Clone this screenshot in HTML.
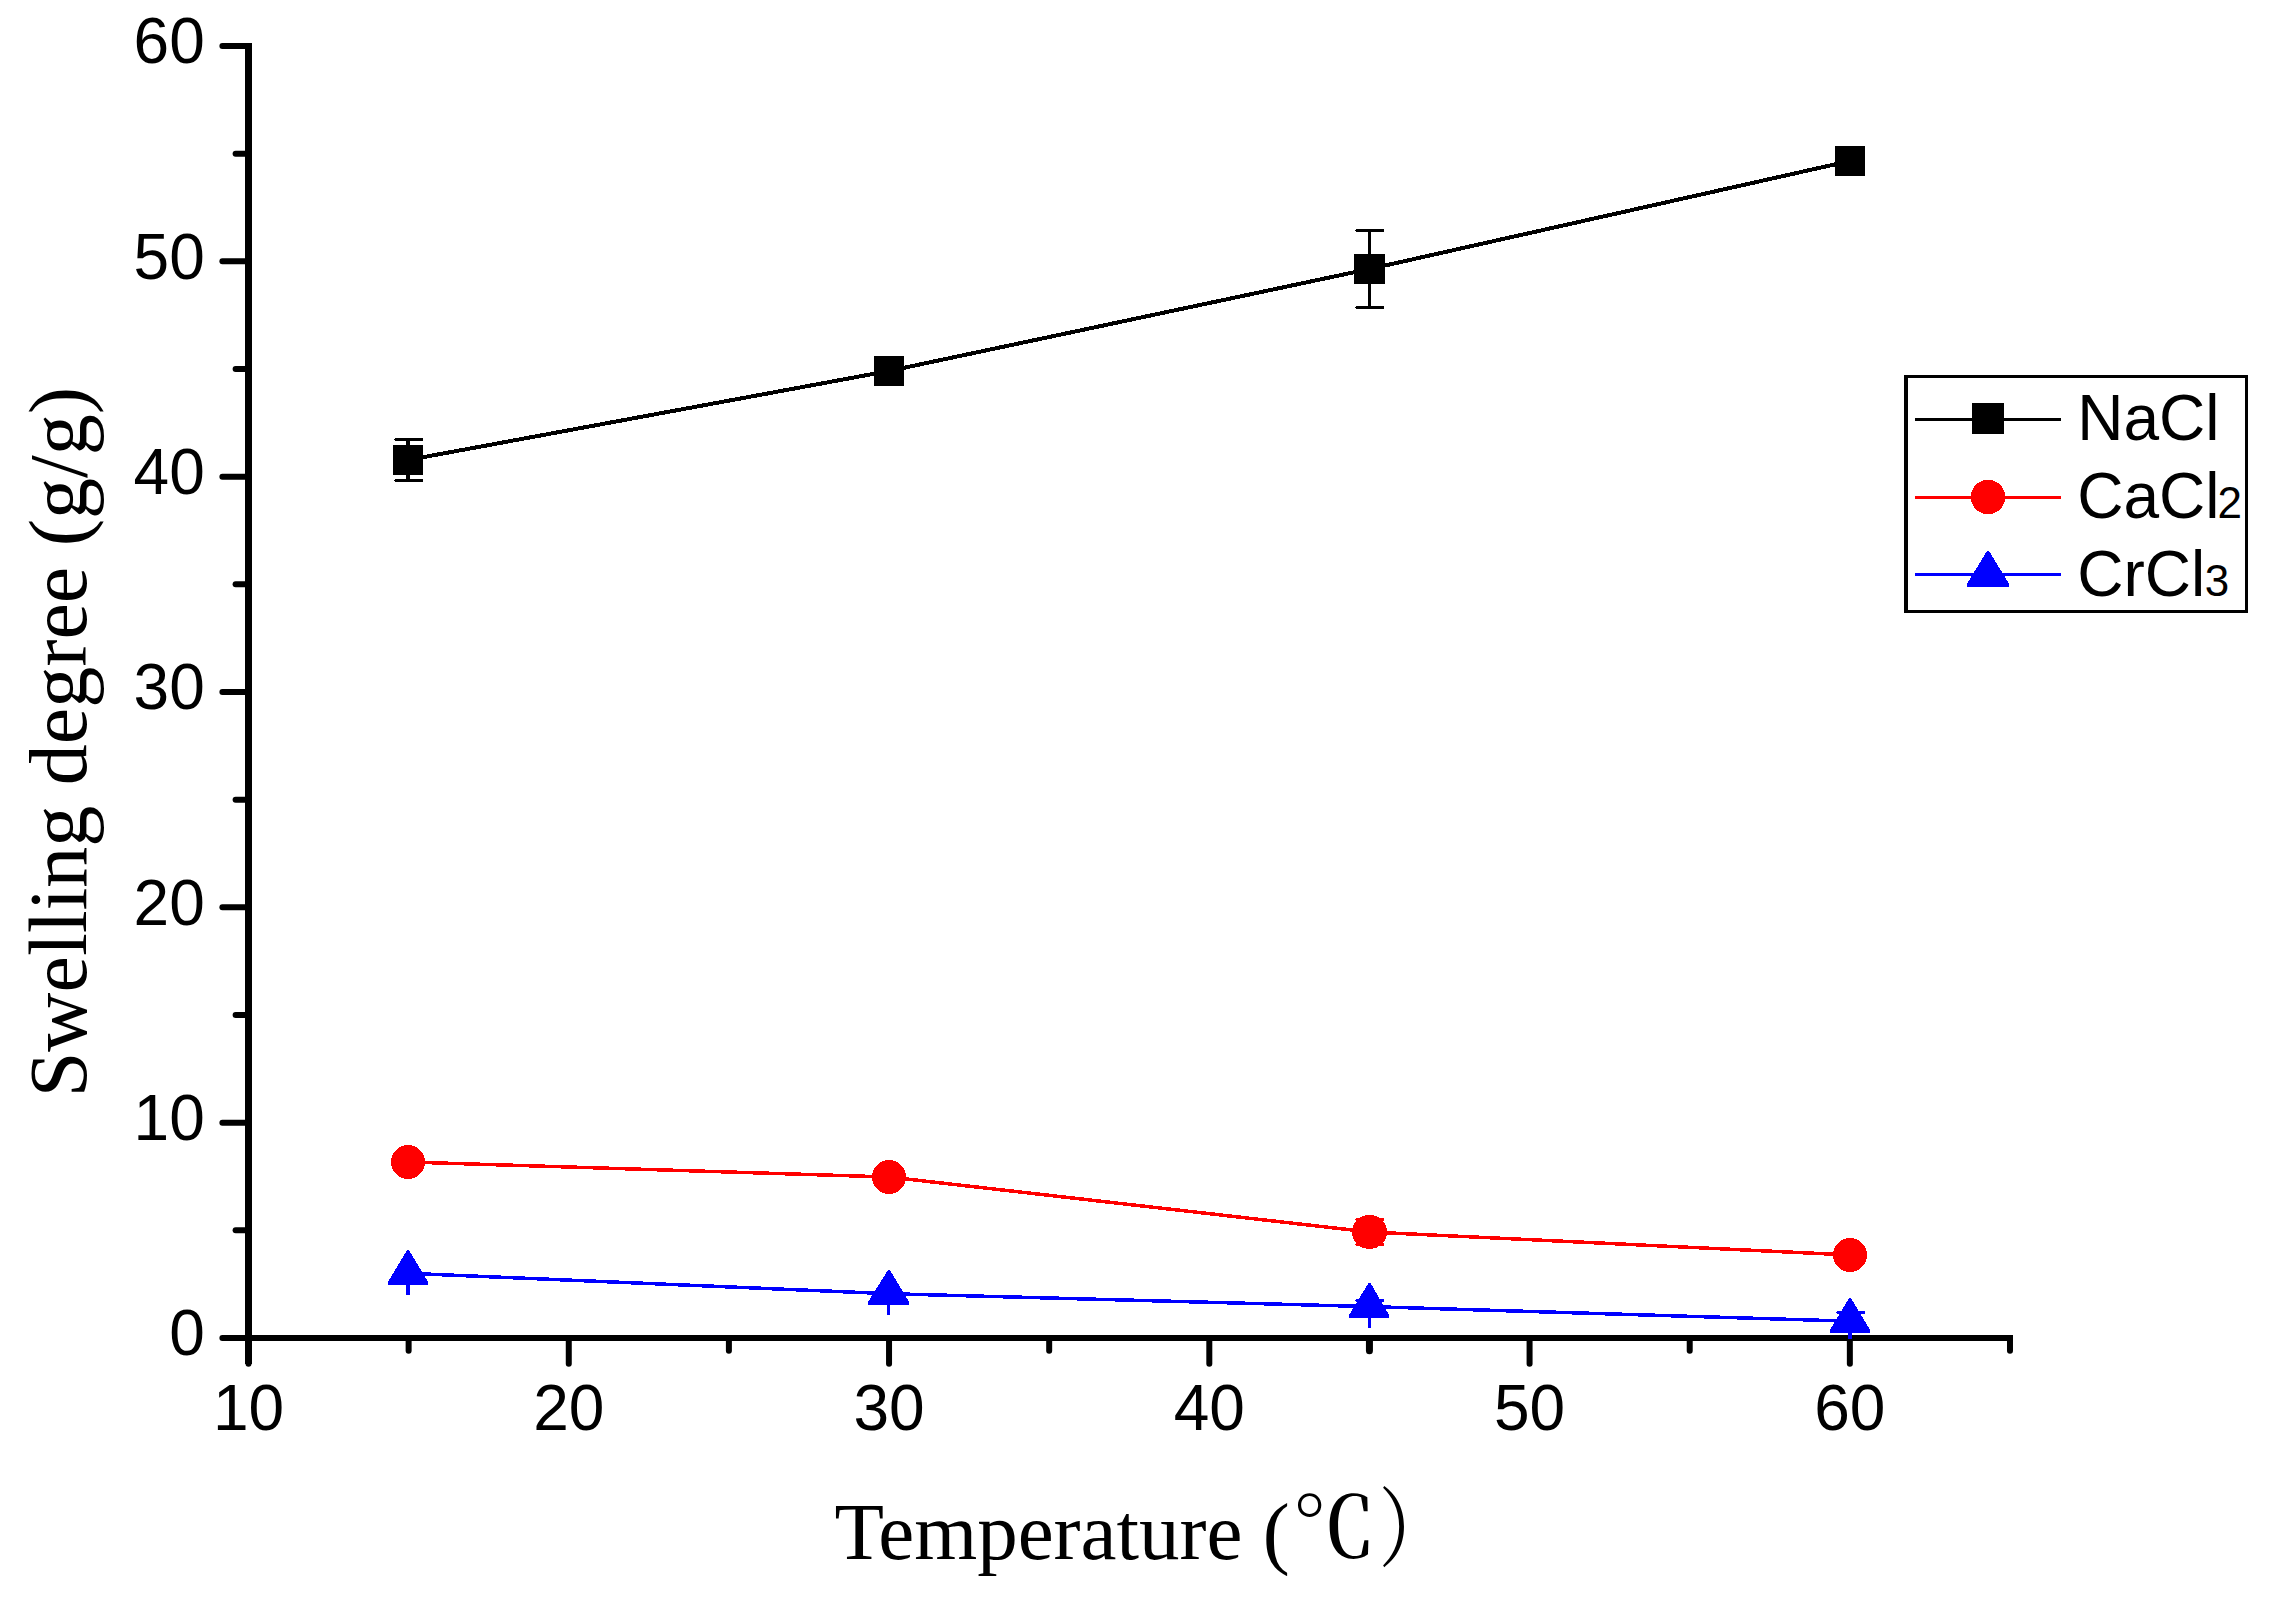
<!DOCTYPE html>
<html lang="en"><head><meta charset="utf-8"><title>Swelling degree vs Temperature</title>
<style>
html,body{margin:0;padding:0;background:#fff;}
body{width:2270px;height:1600px;overflow:hidden;}
svg{display:block;}
.sans{font-family:"Liberation Sans",sans-serif;fill:#000;}
.serif{font-family:"Liberation Serif","Noto Serif CJK SC",serif;fill:#000;}
</style></head><body>
<svg width="2270" height="1600" viewBox="0 0 2270 1600">
<rect x="0" y="0" width="2270" height="1600" fill="#fff"/>
<g stroke="#000" stroke-width="6" fill="none" stroke-linecap="butt" shape-rendering="crispEdges">
<line x1="248.5" y1="43" x2="248.5" y2="1364" stroke-width="7"/>
<line x1="222" y1="1338" x2="2013" y2="1338"/>
</g>
<g stroke="#000" stroke-width="6" fill="none" stroke-linecap="round">
<line x1="248.5" y1="1360" x2="248.5" y2="1363.7"/>
<line x1="222.4" y1="1338" x2="226" y2="1338"/>
<line x1="235.6" y1="1230.34" x2="247" y2="1230.34"/>
<line x1="222.4" y1="1122.67" x2="247" y2="1122.67"/>
<line x1="235.6" y1="1015.0" x2="247" y2="1015.0"/>
<line x1="222.4" y1="907.34" x2="247" y2="907.34"/>
<line x1="235.6" y1="799.67" x2="247" y2="799.67"/>
<line x1="222.4" y1="692.01" x2="247" y2="692.01"/>
<line x1="235.6" y1="584.34" x2="247" y2="584.34"/>
<line x1="222.4" y1="476.68" x2="247" y2="476.68"/>
<line x1="235.6" y1="369.01" x2="247" y2="369.01"/>
<line x1="222.4" y1="261.35" x2="247" y2="261.35"/>
<line x1="235.6" y1="153.68" x2="247" y2="153.68"/>
<line x1="222.4" y1="46.02" x2="247" y2="46.02"/>
<line x1="408.63" y1="1340" x2="408.63" y2="1350.8"/>
<line x1="568.77" y1="1340" x2="568.77" y2="1363.7"/>
<line x1="728.9" y1="1340" x2="728.9" y2="1350.8"/>
<line x1="889.04" y1="1340" x2="889.04" y2="1363.7"/>
<line x1="1049.18" y1="1340" x2="1049.18" y2="1350.8"/>
<line x1="1209.31" y1="1340" x2="1209.31" y2="1363.7"/>
<line x1="1369.44" y1="1340" x2="1369.44" y2="1350.8" stroke-width="7"/>
<line x1="1529.58" y1="1340" x2="1529.58" y2="1363.7"/>
<line x1="1689.72" y1="1340" x2="1689.72" y2="1350.8"/>
<line x1="1849.85" y1="1340" x2="1849.85" y2="1363.7"/>
<line x1="2009.99" y1="1340" x2="2009.99" y2="1350.8"/>
</g>
<g class="sans" font-size="64">
<text x="204.8" y="1355.3" text-anchor="end">0</text>
<text x="204.8" y="1140.0" text-anchor="end">10</text>
<text x="204.8" y="924.6" text-anchor="end">20</text>
<text x="204.8" y="709.3" text-anchor="end">30</text>
<text x="204.8" y="494.0" text-anchor="end">40</text>
<text x="204.8" y="278.7" text-anchor="end">50</text>
<text x="204.8" y="63.3" text-anchor="end">60</text>
<text x="248.5" y="1430.2" text-anchor="middle">10</text>
<text x="568.77" y="1430.2" text-anchor="middle">20</text>
<text x="889.04" y="1430.2" text-anchor="middle">30</text>
<text x="1209.31" y="1430.2" text-anchor="middle">40</text>
<text x="1529.58" y="1430.2" text-anchor="middle">50</text>
<text x="1849.85" y="1430.2" text-anchor="middle">60</text>
</g>
<g shape-rendering="crispEdges">
<polyline points="408,460 889,371 1369.5,269 1850,161" stroke="#000" stroke-width="4" fill="none"/>
<g fill="#000">
<rect x="406" y="439.5" width="4" height="41.0"/>
<path d="M395 438.0H422L423 439.0V440.0L422 441.0H395L394 440.0V439.0Z"/>
<path d="M395 479.0H422L423 480.0V481.0L422 482.0H395L394 481.0V480.0Z"/>
<rect x="1368" y="230.5" width="3" height="77.0"/>
<path d="M1356 229.0H1383L1384 230.0V231.0L1383 232.0H1356L1355 231.0V230.0Z"/>
<path d="M1356 306.0H1383L1384 307.0V308.0L1383 309.0H1356L1355 308.0V307.0Z"/>
<rect x="393" y="445" width="30" height="30"/>
<rect x="874" y="356" width="30" height="30"/>
<rect x="1354" y="254" width="31" height="30"/>
<rect x="1835" y="146" width="30" height="30"/>
</g>
<polyline points="408,1162 889,1177 1369.5,1232 1850,1255" stroke="#f00" stroke-width="3.5" fill="none"/>
<g fill="#f00">
<path d="M1356 1218.0H1383L1384 1219.0V1220.0L1383 1221.0H1356L1355 1220.0V1219.0Z"/>
<path d="M1356 1243.0H1383L1384 1244.0V1245.0L1383 1246.0H1356L1355 1245.0V1244.0Z"/>
<circle cx="408" cy="1162" r="17"/>
<circle cx="889" cy="1177" r="17"/>
<ellipse cx="1369.5" cy="1232" rx="17.5" ry="17"/>
<circle cx="1850" cy="1255" r="17"/>
</g>
<polyline points="408,1273.3 889,1293.7 1369.5,1306.6 1850,1321.2" stroke="#00f" stroke-width="3.5" fill="none"/>
<g fill="#00f">
<rect x="406" y="1280" width="4" height="15"/>
<rect x="887" y="1300" width="3" height="15"/>
<rect x="1368" y="1312" width="3" height="16"/>
<rect x="1848" y="1326" width="4" height="13"/>
<path d="M1356 1299.0H1383L1384 1300.0V1301.0L1383 1302.0H1356L1355 1301.0V1300.0Z"/>
<path d="M1837 1311.0H1864L1865 1312.0V1313.0L1864 1314.0H1837L1836 1313.0V1312.0Z"/>
<polygon points="407,1250 409,1250 428,1282 428,1285 388,1285 388,1282"/>
<polygon points="888,1270 890,1270 909,1302 909,1305 868,1305 868,1302"/>
<polygon points="1368.5,1283 1370.5,1283 1389,1315 1389,1318 1349,1318 1349,1315"/>
<polygon points="1849,1298 1851,1298 1870,1330 1870,1333 1830,1333 1830,1330"/>
</g>
</g>
<path d="M1904 375H2248V613H1904Z M1908 378V610H2245V378Z" fill="#000" fill-rule="evenodd" shape-rendering="crispEdges"/>
<g shape-rendering="crispEdges">
<rect x="1915" y="418" width="146" height="3" fill="#000"/>
<rect x="1915" y="496" width="146" height="3" fill="#f00"/>
<rect x="1915" y="573" width="146" height="3" fill="#00f"/>
<rect x="1972" y="403" width="32" height="31" fill="#000"/>
<circle cx="1988" cy="497" r="17.2" fill="#f00"/>
<polygon points="1987,551 1989,551 2009.2,584 2009.2,587 1966.8,587 1966.8,584" fill="#00f"/>
</g>
<g class="sans" font-size="64">
<text x="2077.2" y="440.1">NaCl</text>
<text x="2077.2" y="518.4">CaCl<tspan font-size="44" dx="-2">2</tspan></text>
<text x="2077.2" y="595.6">CrCl<tspan font-size="44" dx="-0.5">3</tspan></text>
</g>
<g class="serif">
<text font-size="81" x="834.4" y="1559.4">Temperature (</text>
<text font-size="100" font-weight="500" font-family="'Noto Serif CJK SC','DejaVu Serif',serif" transform="translate(1292,1557.3) scale(0.84,0.835)">℃</text>
<text font-size="100" font-family="'Noto Serif CJK SC','DejaVu Serif',serif" transform="translate(1378.6,1559.5) scale(0.731,0.867)">）</text>
<text font-size="82" transform="translate(86,1097.3) rotate(-90)" x="0" y="0">Swelling degree (g/g)</text>
</g>
</svg>
</body></html>
